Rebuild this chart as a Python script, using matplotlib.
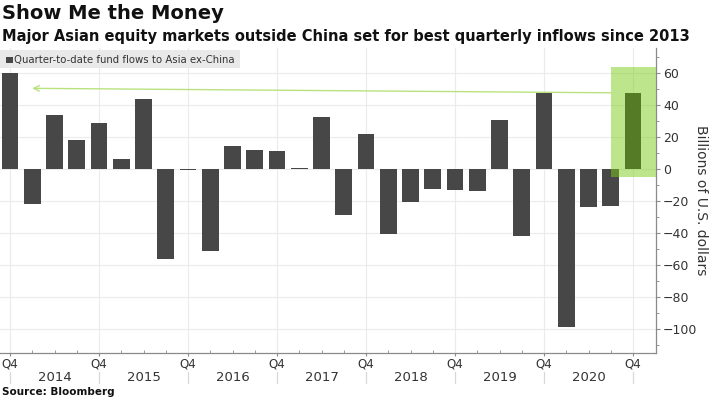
import numpy as np
import matplotlib
matplotlib.use("Agg")
import matplotlib.pyplot as plt
from matplotlib.patches import Rectangle
from matplotlib.ticker import MultipleLocator, FixedLocator

# Quarterly fund flows, Q4 2013 .. Q4 2020 (billions USD)
quarters = ["Q4 2013", "Q1 2014", "Q2 2014", "Q3 2014", "Q4 2014",
            "Q1 2015", "Q2 2015", "Q3 2015", "Q4 2015",
            "Q1 2016", "Q2 2016", "Q3 2016", "Q4 2016",
            "Q1 2017", "Q2 2017", "Q3 2017", "Q4 2017",
            "Q1 2018", "Q2 2018", "Q3 2018", "Q4 2018",
            "Q1 2019", "Q2 2019", "Q3 2019", "Q4 2019",
            "Q1 2020", "Q2 2020", "Q3 2020", "Q4 2020"]
flows = [60, -22, 33.8, 18, 28.5,
         6.5, 44, -56, -0.6,
         -51, 14.4, 11.9, 11.5,
         0.5, 32.7, -28.5, 21.8,
         -40.6, -20.8, -12.7, -13.1,
         -13.5, 30.6, -41.7, 47.3,
         -99, -23.5, -23, 47.3]
years = ["2014", "2015", "2016", "2017", "2018", "2019", "2020"]
legend_label = "Quarter-to-date fund flows to Asia ex-China"

bar_col = "#474747"
green = "#7dcd19"

fig = plt.figure(figsize=(7.1, 3.98), dpi=100)
ax = fig.add_axes([0.0, 0.1131, 0.9239, 0.7663])

x = np.arange(len(flows))
cols = [bar_col] * len(flows)
cols[-1] = "#2d2a36"
ax.bar(x, flows, width=0.75, color=cols, zorder=2)

ax.set_xlim(-0.45, 29.03)
ax.set_ylim(-115, 75.6)

# highlight box on latest quarter
ax.add_patch(Rectangle((27.0, -5.2), 29.03 - 27.0, 69.2, facecolor=green,
                       alpha=0.5, edgecolor="none", zorder=3))
ax.annotate("", xy=(1.0, 50.4), xytext=(27.0, 47.6),
            arrowprops=dict(arrowstyle="->", color="#b9e27f", lw=1.0,
                            shrinkA=0, shrinkB=0), zorder=3)

# axes styling
for s in ["left", "top"]:
    ax.spines[s].set_visible(False)
for s in ["right", "bottom"]:
    ax.spines[s].set_color("#8a8a8a")
    ax.spines[s].set_linewidth(0.9)

ax.yaxis.tick_right()
ax.yaxis.set_label_position("right")
ax.set_yticks(np.arange(-100, 61, 20))
ax.yaxis.set_minor_locator(MultipleLocator(10))
ax.tick_params(axis="y", which="major", length=3, color="#8a8a8a",
               labelsize=9, labelcolor="#333333", pad=2)
ax.tick_params(axis="y", which="minor", length=2, color="#8a8a8a")
ax.set_ylabel("Billions of U.S. dollars", rotation=270, labelpad=8,
              fontsize=10, color="#333333")

q4_pos = x[::4]
ax.xaxis.set_major_locator(FixedLocator(q4_pos))
ax.xaxis.set_minor_locator(FixedLocator(x))
ax.set_xticklabels(["Q4"] * len(q4_pos))
ax.tick_params(axis="x", which="major", length=2, color="#8a8a8a",
               labelsize=8.5, labelcolor="#333333", pad=1)
ax.tick_params(axis="x", which="minor", length=2, color="#8a8a8a",
               direction="in")

ax.grid(True, which="major", color="#ebebeb", lw=0.8, zorder=0)
ax.set_axisbelow(True)

# year labels and separators below the Q4 labels
trans = ax.get_xaxis_transform()
for i, yr in enumerate(years):
    ax.text(q4_pos[i] + 2, -0.079, yr, transform=trans, ha="center",
            va="center", fontsize=9.5, color="#333333")
for p in q4_pos:
    ax.plot([p, p], [-0.062, -0.1], transform=trans, color="#d8d8d8",
            lw=0.9, clip_on=False)

# legend box
ax.add_patch(Rectangle((0, 0.934), 0.366, 0.059, transform=ax.transAxes,
                       facecolor="#e9e9e9", edgecolor="none", zorder=4))
ax.add_patch(Rectangle((0.009, 0.95), 0.0107, 0.0216, transform=ax.transAxes,
                       facecolor=bar_col, edgecolor="none", zorder=5))
ax.text(0.022, 0.962, legend_label, transform=ax.transAxes, ha="left",
        va="center", fontsize=7.3, color="#333333", zorder=5)

fig.text(0.003, 0.99, "Show Me the Money", ha="left", va="top",
         fontsize=14, fontweight="bold", color="#111111")
fig.text(0.003, 0.928, "Major Asian equity markets outside China set for best quarterly inflows since 2013",
         ha="left", va="top", fontsize=10.5, fontweight="bold", color="#111111")
fig.text(0.003, 0.016, "Source: Bloomberg", ha="left", va="center",
         fontsize=7.5, fontweight="bold", color="#111111")

fig.savefig("out.png", dpi=100)
